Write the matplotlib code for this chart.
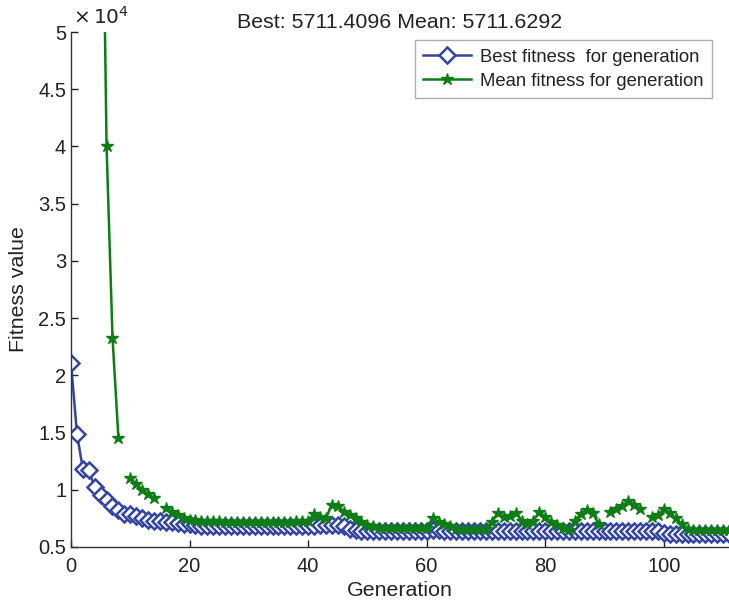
import numpy as np
import matplotlib
matplotlib.use("Agg")
import matplotlib.pyplot as plt

plt.rcParams['font.family'] = ['Liberation Sans', 'DejaVu Sans']

nan = np.nan

# GA fitness per generation
best_fitness = [21100, 14900, 11800, 11700, 10200, 9500, 9100, 8600, 8200, 7900,
                7900, 7700, 7500, 7400, 7300, 7300, 7200, 7200, 7100, 7000,
                7000, 6900, 6850, 6850, 6800, 6800, 6800, 6800, 6800, 6800,
                6800, 6800, 6800, 6800, 6800, 6800, 6800, 6800, 6800, 6800,
                6800, 6850, 6900, 6950, 6950, 6900, 6800, 6600, 6500, 6400,
                6400, 6400, 6400, 6400, 6400, 6400, 6400, 6400, 6400, 6400,
                6400, 6500, 6500, 6400, 6400, 6400, 6400, 6400, 6400, 6400,
                6400, 6400, 6400, 6400, 6400, 6400, 6400, 6400, 6400, 6400,
                6400, 6400, 6400, 6400, 6400, 6400, 6400, 6400, 6400, 6400,
                6400, 6400, 6400, 6400, 6400, 6400, 6400, 6400, 6400, 6400,
                6200, 6100, 6100, 6100, 6100, 6100, 6100, 6100, 6100, 6100,
                6100, 6100]

mean_fitness = [nan, nan, nan, nan, nan, 77000, 40000, 23300, 14500, nan,
                11000, 10500, 10000, 9600, 9300, nan, 8400, 8100, 7800, 7500,
                7400, 7350, 7300, 7300, 7250, 7250, 7200, 7200, 7200, 7200,
                7200, 7200, 7200, 7200, 7200, 7200, 7200, 7200, 7250, 7300,
                7300, 7900, 7600, 7500, 8700, 8600, 8100, 7800, 7500, 7200,
                6900, 6800, 6700, 6700, 6700, 6700, 6700, 6700, 6700, 6700,
                6700, 7500, 7200, 7000, 6800, 6600, 6600, 6600, 6600, 6600,
                6600, 7200, 8000, 7600, 7700, 8000, 7300, 7000, 7300, 8100,
                7600, 7200, 6900, 6700, 6500, 7300, 7900, 8200, 8000, 7000,
                nan, 8100, 8300, 8600, 9000, 8700, 8300, nan, 7600, 7800,
                8300, 8000, 7500, 7000, 6600, 6500, 6500, 6500, 6500, 6500,
                6500, 6500]

generation = np.arange(len(best_fitness))

yticks = [5000, 10000, 15000, 20000, 25000, 30000, 35000, 40000, 45000, 50000]
ytick_labels = ["0.5", "1", "1.5", "2", "2.5", "3", "3.5", "4", "4.5", "5"]
xticks = [0, 20, 40, 60, 80, 100]

blue = "#3343a6"
green = "#0f7d16"
txt = "#222222"

fig = plt.figure(figsize=(7.29, 6.05), dpi=100)
ax = fig.add_axes([0.0974, 0.0959, 0.9026, 0.8512])

ax.plot(generation, best_fitness, color=blue, lw=1.8, marker="D", markersize=8,
        markerfacecolor="white", markeredgecolor=blue, markeredgewidth=1.8,
        label="Best fitness  for generation")
ax.plot(generation, mean_fitness, color=green, lw=1.8, marker="*", markersize=9,
        markeredgecolor=green, label="Mean fitness for generation")

ax.set_xlim(0, 111)
ax.set_ylim(5000, 50000)
ax.set_yticks(yticks)
ax.set_yticklabels(ytick_labels)
ax.set_xticks(xticks)
ax.tick_params(direction="in", length=5, width=1, colors=txt, labelsize=14.5)
ax.tick_params(axis="x", pad=7)
for side in ["top", "right"]:
    ax.spines[side].set_visible(False)
for side in ["left", "bottom"]:
    ax.spines[side].set_color("#333333")
    ax.spines[side].set_linewidth(1.0)

ax.set_xlabel("Generation", fontsize=15.4, color=txt, labelpad=4)
ax.set_ylabel("Fitness value", fontsize=15.4, color=txt, labelpad=7)
ax.set_title("Best: 5711.4096 Mean: 5711.6292", fontsize=15.4, color=txt, pad=0)
fig.text(0.100, 0.972, r"$\times\,10^4$", fontsize=14.5, color=txt, ha="left", va="center")

leg = ax.legend(loc="upper right", bbox_to_anchor=(0.974, 0.984), borderaxespad=0,
                fontsize=13.3, frameon=True, fancybox=False, handlelength=2.6,
                labelspacing=0.4, borderpad=0.45, handletextpad=0.5)
leg.get_frame().set_edgecolor("#999999")
leg.get_frame().set_linewidth(1.0)
for t in leg.get_texts():
    t.set_color(txt)

fig.savefig("out.png", dpi=100)
